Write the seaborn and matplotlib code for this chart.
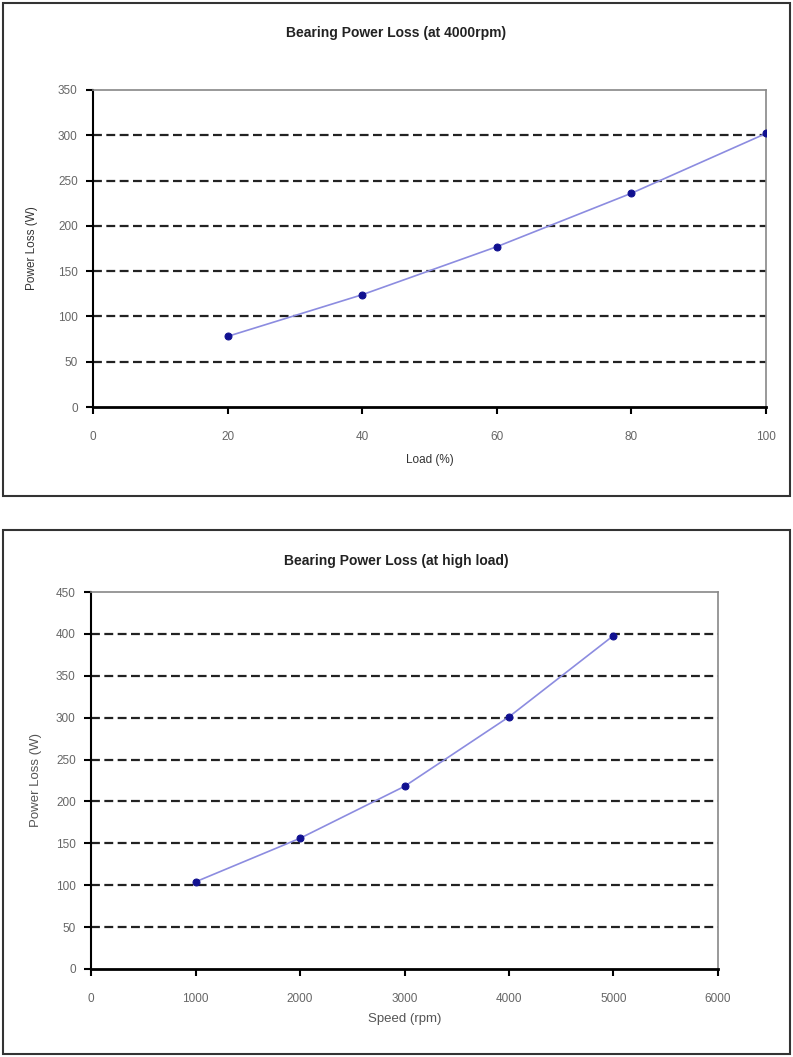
import numpy as np
import pandas as pd
import matplotlib
matplotlib.use("Agg")
import matplotlib.pyplot as plt
import seaborn as sns
from matplotlib.patches import Rectangle

# data
load_pct = [20, 40, 60, 80, 100]
loss_load = [78, 124, 177, 236, 302]
speed_rpm = [1000, 2000, 3000, 4000, 5000]
loss_speed = [104, 156, 218, 301, 398]

sns.set_style("white")
plt.rcParams['font.family'] = ['Liberation Sans', 'DejaVu Sans']

LINE = '#8c8ce0'
MARK = '#101090'

fig = plt.figure(figsize=(7.93, 10.57), dpi=100)

# panel borders
for y0, h in [(0.531, 0.466), (0.003, 0.496)]:
    fig.patches.append(Rectangle((0.004, y0), 0.992, h, transform=fig.transFigure,
                                 fill=False, edgecolor='#333333', linewidth=1.5))


def style_axes(ax, xmax, xstep, ymax, ystep):
    ax.set_xlim(0, xmax)
    ax.set_ylim(0, ymax)
    ax.set_xticks(np.arange(0, xmax + 1, xstep))
    ax.set_yticks(np.arange(0, ymax + 1, ystep))
    for y in np.arange(ystep, ymax, ystep):
        ax.axhline(y, color='#222222', linestyle=(0, (4, 2)), linewidth=1.6, zorder=1)
    ax.spines['left'].set_color('black')
    ax.spines['bottom'].set_color('black')
    ax.spines['left'].set_linewidth(1.5)
    ax.spines['bottom'].set_linewidth(2.0)
    ax.spines['top'].set_color('#888888')
    ax.spines['right'].set_color('#888888')
    ax.spines['top'].set_linewidth(1.2)
    ax.spines['right'].set_linewidth(1.2)
    ax.tick_params(axis='both', direction='out', length=5, width=1.5,
                   color='black', labelsize=8.5, labelcolor='#666666', pad=6)
    ax.tick_params(axis='x', pad=12)
    ax.tick_params(axis='x', which='major', bottom=True)
    ax.tick_params(axis='y', which='major', left=True)


# top chart: power loss vs load
ax1 = fig.add_axes([0.1173, 0.6149, 0.8487, 0.300])
df1 = pd.DataFrame({'Load (%)': load_pct, 'Power Loss (W)': loss_load})
sns.lineplot(data=df1, x='Load (%)', y='Power Loss (W)', ax=ax1, color=LINE,
             linewidth=1.2, marker='o', markersize=5, markerfacecolor=MARK,
             markeredgecolor=MARK, zorder=3)
style_axes(ax1, 100, 20, 350, 50)
ax1.set_xlabel('Load (%)', fontsize=8.5, color='#333333', labelpad=8)
ax1.set_ylabel('Power Loss (W)', fontsize=8.5, color='#333333', labelpad=14)
fig.text(0.5, 1 - 33 / 1057, 'Bearing Power Loss (at 4000rpm)', ha='center',
         va='center', fontsize=10, fontweight='bold', color='#222222')

# bottom chart: power loss vs speed
ax2 = fig.add_axes([0.1148, 0.0833, 0.7906, 0.3566])
df2 = pd.DataFrame({'Speed (rpm)': speed_rpm, 'Power Loss (W)': loss_speed})
sns.lineplot(data=df2, x='Speed (rpm)', y='Power Loss (W)', ax=ax2, color=LINE,
             linewidth=1.2, marker='o', markersize=5, markerfacecolor=MARK,
             markeredgecolor=MARK, zorder=3)
style_axes(ax2, 6000, 1000, 450, 50)
ax2.set_xlabel('Speed (rpm)', fontsize=9.5, color='#555555', labelpad=6)
ax2.set_ylabel('Power Loss (W)', fontsize=9.5, color='#555555', labelpad=10)
fig.text(0.5, 1 - 561 / 1057, 'Bearing Power Loss (at high load)', ha='center',
         va='center', fontsize=10, fontweight='bold', color='#222222')

fig.savefig('out.png', dpi=100)
